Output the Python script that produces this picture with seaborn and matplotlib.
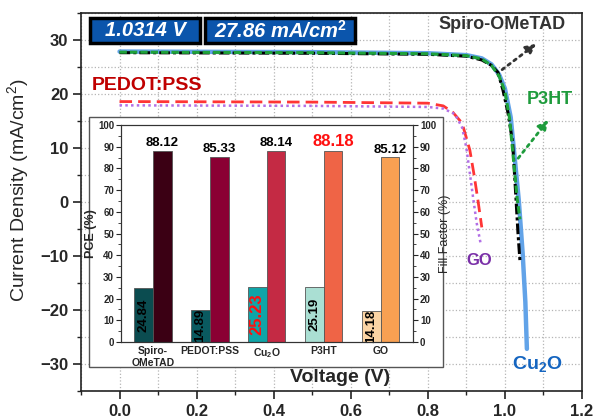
import matplotlib
matplotlib.use("Agg")
import matplotlib.pyplot as plt
import seaborn as sns
import pandas as pd
from matplotlib.patches import Rectangle
from matplotlib.ticker import MultipleLocator

# ---------------- data ----------------
v_cu2o = [0.0, 0.5, 0.8, 0.9, 0.94, 0.965, 0.985, 1.0, 1.015, 1.026, 1.036, 1.046, 1.053, 1.057]
j_cu2o = [27.86, 27.75, 27.55, 27.2, 26.6, 25.5, 23.6, 21.0, 15.7, 7.7, 0.3, -9.5, -18.5, -27.2]

v_p3ht = [0.0, 0.5, 0.8, 0.9, 0.94, 0.965, 0.985, 1.0, 1.012, 1.022, 1.032, 1.039]
j_p3ht = [27.75, 27.65, 27.45, 27.1, 26.5, 25.3, 23.3, 20.5, 15.5, 8.0, 0.5, -3.2]

v_spiro = [0.0, 0.5, 0.8, 0.9, 0.94, 0.965, 0.982, 0.995, 1.008, 1.02, 1.027, 1.034, 1.039]
j_spiro = [27.65, 27.55, 27.35, 27.0, 26.3, 25.3, 24.0, 20.7, 16.5, 11.0, 2.7, -5.9, -10.9]

v_pedot = [0.0, 0.5, 0.8, 0.84, 0.865, 0.889, 0.909, 0.92, 0.93, 0.94]
j_pedot = [18.6, 18.5, 18.3, 17.8, 16.6, 14.6, 9.6, 5.0, 0.3, -4.7]

v_go = [0.0, 0.5, 0.8, 0.84, 0.87, 0.889, 0.9, 0.909, 0.918, 0.927, 0.937]
j_go = [17.9, 17.8, 17.6, 17.3, 16.3, 13.8, 10.0, 5.3, 0.5, -4.0, -7.7]

x_ticks = [0.0, 0.2, 0.4, 0.6, 0.8, 1.0, 1.2]
x_tick_labels = ["0.0", "0.2", "0.4", "0.6", "0.8", "1.0", "1.2"]
y_ticks = [-30, -20, -10, 0, 10, 20, 30]
y_tick_labels = ["\u221230", "\u221220", "\u221210", "0", "10", "20", "30"]

devices = ["Spiro-OMeTAD", "PEDOT:PSS", "Cu2O", "P3HT", "GO"]
device_labels = ["Spiro-\nOMeTAD", "PEDOT:PSS", "Cu$_\\mathbf{2}$O", "P3HT", "GO"]
pce = [24.84, 14.89, 25.23, 25.19, 14.18]
ff = [88.12, 85.33, 88.14, 88.18, 85.12]
inset_ticks = [0, 10, 20, 30, 40, 50, 60, 70, 80, 90, 100]

voc_text = "1.0314 V"
jsc_text = "27.86 mA/cm$^\\mathbf{2}$"

# ---------------- style ----------------
sns.set_theme(style="ticks")
plt.rcParams['font.family'] = ['Liberation Sans', 'DejaVu Sans']
plt.rcParams['mathtext.fontset'] = 'custom'
plt.rcParams['mathtext.rm'] = 'Liberation Sans'
plt.rcParams['mathtext.bf'] = 'Liberation Sans:bold'
plt.rcParams['mathtext.it'] = 'Liberation Sans:italic'
plt.rcParams['mathtext.default'] = 'regular'

fig = plt.figure(figsize=(5.94, 4.19), dpi=100)
ax = fig.add_axes([81/594, 1-391/419, (582-81)/594, (391-13)/419])

# ---------------- J-V curves ----------------
sns.lineplot(x=v_cu2o, y=j_cu2o, ax=ax, color='#62A3E8', lw=3.2, sort=False, estimator=None, zorder=3)
sns.lineplot(x=v_spiro, y=j_spiro, ax=ax, color='black', lw=2.2, sort=False, estimator=None,
             linestyle=(0, (3.5, 1.0, 1.0, 1.0)), zorder=4)
sns.lineplot(x=v_p3ht, y=j_p3ht, ax=ax, color='#1FA23A', lw=2.2, sort=False, estimator=None,
             linestyle=(0, (2.4, 1.0)), zorder=5)
sns.lineplot(x=v_pedot, y=j_pedot, ax=ax, color='#FF3535', lw=2.0, sort=False, estimator=None,
             linestyle=(0, (4.5, 2.2)), zorder=4)
sns.lineplot(x=v_go, y=j_go, ax=ax, color='#B26FE6', lw=1.8, sort=False, estimator=None,
             linestyle=(0, (1.0, 1.3)), zorder=4)

ax.set_xlim(-0.1, 1.2)
ax.set_ylim(-35, 35)
ax.set_xticks(x_ticks, labels=x_tick_labels, fontsize=12, fontweight='bold')
ax.set_yticks(y_ticks, labels=y_tick_labels, fontsize=12, fontweight='bold')
ax.xaxis.set_minor_locator(MultipleLocator(0.1))
ax.yaxis.set_minor_locator(MultipleLocator(5))
ax.tick_params(which='major', direction='out', length=6, width=1.2, color='#222', pad=3)
ax.tick_params(which='minor', direction='out', length=3, width=1.0, color='#222')
ax.grid(which='both', linestyle=':', color='#b5b5b5', lw=0.9)
for s in ax.spines.values():
    s.set_color('#222')
    s.set_linewidth(1.2)

ax.set_xlabel("Voltage (V)", fontsize=14, fontweight='bold')
ax.xaxis.set_label_coords(0.517, 0.058)
ax.set_ylabel("Current Density (mA/cm$^2$)", fontsize=14)
ax.yaxis.set_label_coords(-0.10, 0.53)

# ---------------- annotations ----------------
ax.text(0.992, 32.9, "Spiro-OMeTAD", fontsize=13, fontweight='bold', color='#333333', ha='center', va='center')
ax.annotate('', xy=(1.087, 29.6), xytext=(0.987, 24.2),
            arrowprops=dict(arrowstyle='-|>,head_length=0.5,head_width=0.25', linestyle=':', color='#333333', lw=2))
ax.text(1.117, 19.0, "P3HT", fontsize=13, fontweight='bold', color='#1E9B3C', ha='center', va='center')
ax.annotate('', xy=(1.117, 15.6), xytext=(1.03, 7.7),
            arrowprops=dict(arrowstyle='-|>,head_length=0.5,head_width=0.25', linestyle=':', color='#1E9B3C', lw=2))
ax.text(0.07, 21.5, "PEDOT:PSS", fontsize=14, fontweight='bold', color='#C00000', ha='center', va='center')
ax.text(0.933, -10.9, "GO", fontsize=12, fontweight='bold', color='#7A30A8', ha='center', va='center')
ax.text(1.085, -30.0, "Cu$_\\mathbf{2}$O", fontsize=14, fontweight='bold', color='#1565C0', ha='center', va='center')

# boxes for Voc / Jsc
for x0, x1 in [((90-81)/501, (200-81)/501), ((205-81)/501, (355-81)/501)]:
    ax.add_patch(Rectangle((x0, (391-43)/378), x1-x0, 25/378, transform=ax.transAxes,
                           facecolor='#0B55AC', edgecolor='black', lw=2.5, zorder=8, clip_on=False))
ax.text((145-81)/501, (391-30.5)/378, voc_text, transform=ax.transAxes, fontsize=14.5, fontweight='bold',
        fontstyle='italic', color='white', ha='center', va='center', zorder=9)
ax.text((280-81)/501, (391-30.5)/378, jsc_text, transform=ax.transAxes, fontsize=14.5, fontweight='bold',
        fontstyle='italic', color='white', ha='center', va='center', zorder=9)

# ---------------- inset ----------------
frame = Rectangle((89/594, 1-367/419), (443-89)/594, (367-117)/419, transform=fig.transFigure,
                  facecolor='white', edgecolor='#555555', lw=1.0, zorder=3)
fig.patches.append(frame)

ax2 = fig.add_axes([121/594, 1-342/419, (413-121)/594, (342-125)/419])
ax2.set_zorder(5)
df = pd.DataFrame({'Device': devices * 2,
                   'Metric': ['PCE'] * 5 + ['FF'] * 5,
                   'Value': pce + ff})
sns.barplot(data=df, x='Device', y='Value', hue='Metric', ax=ax2, width=0.66, gap=0,
            legend=False, edgecolor='#555555', linewidth=0.6, saturation=1)
pce_colors = ['#0B4C50', '#0A5A60', '#10A5A8', '#AADFD3', '#FBD4A4']
ff_colors = ['#3B0014', '#8A0033', '#C42A44', '#EF6446', '#F8A052']
for bar, c in zip(ax2.containers[0], pce_colors):
    bar.set_facecolor(c)
for bar, c in zip(ax2.containers[1], ff_colors):
    bar.set_facecolor(c)

for bar, val, dev in zip(ax2.containers[0], pce, devices):
    red = dev == 'Cu2O'
    ax2.text(bar.get_x() + bar.get_width()/2, val/2, f"{val:.2f}", rotation=90,
             ha='center', va='center', fontsize=12 if red else 9.5, fontweight='bold',
             color='#FF1010' if red else 'black')
for bar, val, dev in zip(ax2.containers[1], ff, devices):
    red = dev == 'P3HT'
    ax2.text(bar.get_x() + bar.get_width()/2, val + 0.8, f"{val:.2f}",
             ha='center', va='bottom', fontsize=12 if red else 9.5, fontweight='bold',
             color='#FF1010' if red else 'black')

ax2.set_xlim(-0.56, 4.57)
ax2.set_ylim(0, 100)
ax2.set_xticks(range(len(devices)), labels=device_labels, fontsize=7.5, fontweight='bold')
ax2.set_yticks(inset_ticks, labels=[str(t) for t in inset_ticks], fontsize=7, fontweight='bold')
ax2.yaxis.set_minor_locator(MultipleLocator(5))
ax2.tick_params(axis='x', length=0, pad=3)
ax2.tick_params(axis='y', which='major', direction='out', length=3.5, width=0.8, pad=1.5)
ax2.tick_params(axis='y', which='minor', direction='out', length=2, width=0.6)
ax2.set_xlabel('')
ax2.set_ylabel('PCE (%)', fontsize=9, fontweight='bold', labelpad=1)
for s in ax2.spines.values():
    s.set_color('#333333')
    s.set_linewidth(0.8)

ax3 = ax2.twinx()
ax3.set_ylim(0, 100)
ax3.set_yticks(inset_ticks, labels=[str(t) for t in inset_ticks], fontsize=7, fontweight='bold')
ax3.yaxis.set_minor_locator(MultipleLocator(5))
ax3.tick_params(axis='y', which='major', direction='out', length=3.5, width=0.8, pad=1.5)
ax3.tick_params(axis='y', which='minor', direction='out', length=2, width=0.6)
ax3.set_ylabel('Fill Factor (%)', fontsize=9, labelpad=2)
for s in ax3.spines.values():
    s.set_color('#333333')
    s.set_linewidth(0.8)

fig.savefig("out.png", dpi=100, facecolor='white')
